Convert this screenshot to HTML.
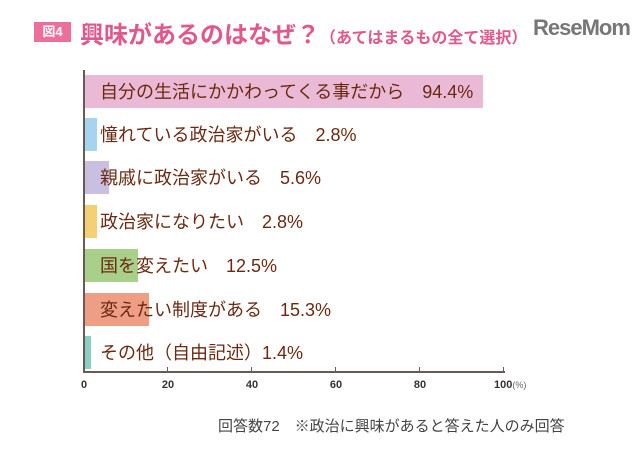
<!DOCTYPE html>
<html><head><meta charset="utf-8"><style>
body{margin:0;width:640px;height:461px;background:#fff;position:relative;overflow:hidden;font-family:"Liberation Sans","Noto Sans CJK JP",sans-serif}
.a{position:absolute;white-space:nowrap}
.bar{position:absolute;left:85px;height:33px}
.lab{position:absolute;left:100px;font-size:18px;color:#6b2a10;line-height:20px;white-space:nowrap}
.tk{position:absolute;top:379px;font-size:11px;font-weight:bold;color:#333;transform:translateX(-50%)}
</style></head><body>
<div class="a" style="left:34px;top:22px;width:37px;height:20px;background:#ec6e9a;color:#fff;font-size:13px;font-weight:bold;text-align:center;line-height:20px">図4</div>
<div class="a" style="left:80px;top:15px;font-size:24px;font-weight:bold;color:#e0588c">興味があるのはなぜ？<span style="font-size:16px">（あてはまるもの全て選択）</span></div>
<div class="a" style="left:533px;top:15px;font-size:22px;font-weight:bold;color:#777;letter-spacing:-1px">ReseMom</div>
<div class="a" style="left:83px;top:70px;width:2px;height:303px;background:#6a5a55"></div>
<div class="a" style="left:83px;top:371px;width:422px;height:2px;background:#6a5a55"></div>
<div class="a" style="left:167px;top:367px;width:1px;height:5px;background:#6a5a55"></div>
<div class="a" style="left:251px;top:367px;width:1px;height:5px;background:#6a5a55"></div>
<div class="a" style="left:335px;top:367px;width:1px;height:5px;background:#6a5a55"></div>
<div class="a" style="left:419px;top:367px;width:1px;height:5px;background:#6a5a55"></div>
<div class="a" style="left:503px;top:367px;width:1px;height:5px;background:#6a5a55"></div>
<div class="tk" style="left:84px">0</div><div class="tk" style="left:168px">20</div><div class="tk" style="left:252px">40</div><div class="tk" style="left:336px">60</div><div class="tk" style="left:420px">80</div>
<div class="a" style="left:494px;top:379px;font-size:11px;font-weight:bold;color:#333">100<span style="font-weight:normal;font-size:9px;color:#666">(%)</span></div>
<div class="bar" style="top:75px;width:398px;background:#e9b9d5"></div>
<div class="bar" style="top:118px;width:12px;background:#a6d3ee"></div>
<div class="bar" style="top:161px;width:24px;background:#cbbfe1"></div>
<div class="bar" style="top:205px;width:12px;background:#f4cf73"></div>
<div class="bar" style="top:249px;width:53px;background:#a8d08a"></div>
<div class="bar" style="top:293px;width:64px;background:#ef9e86"></div>
<div class="bar" style="top:336px;width:6px;background:#8ccfc4"></div>
<div class="lab" style="top:82px">自分の生活にかかわってくる事だから　94.4%</div>
<div class="lab" style="top:125px">憧れている政治家がいる　2.8%</div>
<div class="lab" style="top:168px">親戚に政治家がいる　5.6%</div>
<div class="lab" style="top:212px">政治家になりたい　2.8%</div>
<div class="lab" style="top:256px">国を変えたい　12.5%</div>
<div class="lab" style="top:300px">変えたい制度がある　15.3%</div>
<div class="lab" style="top:343px">その他（自由記述）1.4%</div>
<div class="a" style="left:218px;top:415px;font-size:15px;color:#444">回答数72　※政治に興味があると答えた人のみ回答</div>
</body></html>
